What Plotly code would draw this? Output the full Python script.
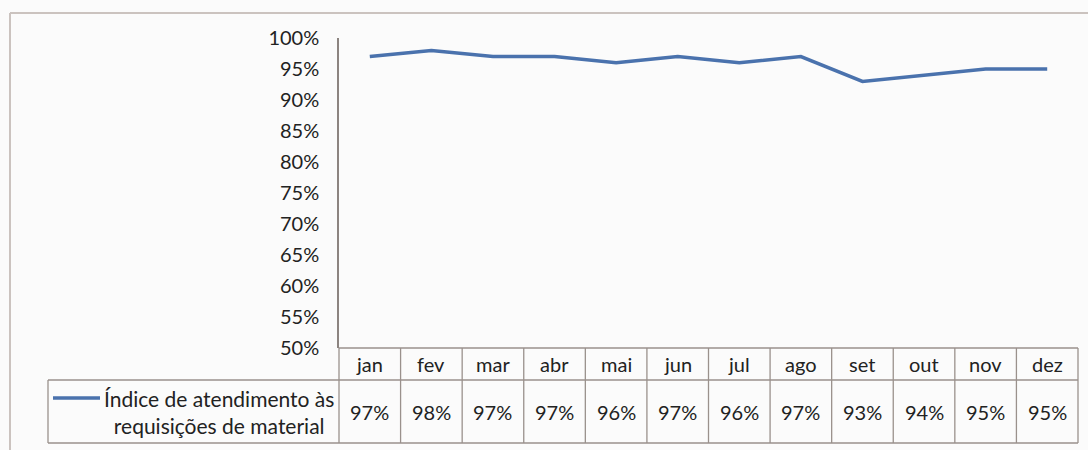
import plotly.graph_objects as go

months = ["jan", "fev", "mar", "abr", "mai", "jun", "jul", "ago", "set", "out", "nov", "dez"]
values = [97, 98, 97, 97, 96, 97, 96, 97, 93, 94, 95, 95]
series_name = "Índice de atendimento às<br>requisições de material"
y_ticks = list(range(50, 101, 5))
y_tick_labels = [f"{v}%" for v in y_ticks]

W, H = 1088, 450
L, R, T, B = 339, 10, 38, 102
pw = W - L - R
ph = H - T - B

def px_x(px):
    return (px - L) / pw

def px_y(py):
    return (H - B - py) / ph

FONT = "Lato"
TXT = "#222222"
LINE_BLUE = "#4a72ad"
GRID = "#9a918c"

fig = go.Figure()
fig.add_trace(go.Scatter(
    x=months, y=values, mode="lines",
    line=dict(color=LINE_BLUE, width=3.5, shape="linear"),
    name=series_name, showlegend=False, hoverinfo="x+y",
))

n = len(months)
shapes = []
row1_top = px_y(348)
row1_bot = px_y(380)
row2_bot = px_y(443)
legend_left = px_x(48)
for k in range(n + 1):
    shapes.append(dict(type="line", xref="paper", yref="paper",
                       x0=k / n, x1=k / n, y0=row1_top, y1=row2_bot,
                       line=dict(color=GRID, width=1.3)))
shapes.append(dict(type="line", xref="paper", yref="paper", x0=0, x1=1,
                   y0=row1_top, y1=row1_top, line=dict(color=GRID, width=1.3)))
shapes.append(dict(type="line", xref="paper", yref="paper", x0=legend_left, x1=1,
                   y0=row1_bot, y1=row1_bot, line=dict(color=GRID, width=1.3)))
shapes.append(dict(type="line", xref="paper", yref="paper", x0=legend_left, x1=1,
                   y0=row2_bot, y1=row2_bot, line=dict(color=GRID, width=1.3)))
shapes.append(dict(type="line", xref="paper", yref="paper", x0=legend_left, x1=legend_left,
                   y0=row1_bot, y1=row2_bot, line=dict(color=GRID, width=1.3)))
# legend key
shapes.append(dict(type="line", xref="paper", yref="paper", x0=px_x(53), x1=px_x(100),
                   y0=px_y(398), y1=px_y(398), line=dict(color=LINE_BLUE, width=3.5)))
# outer chart border
shapes.append(dict(type="line", xref="paper", yref="paper", x0=px_x(10), x1=px_x(1090),
                   y0=px_y(13), y1=px_y(13), line=dict(color="#cbc3bf", width=2)))
shapes.append(dict(type="line", xref="paper", yref="paper", x0=px_x(10), x1=px_x(10),
                   y0=px_y(13), y1=px_y(452), line=dict(color="#cbc3bf", width=2)))

annotations = []
for i, (m, v) in enumerate(zip(months, values)):
    annotations.append(dict(x=(i + 0.5) / n, y=(row1_top + row1_bot) / 2, xref="paper", yref="paper",
                            text=m, showarrow=False, xanchor="center", yanchor="middle",
                            font=dict(family=FONT, size=20, color=TXT)))
    annotations.append(dict(x=(i + 0.5) / n, y=(row1_bot + row2_bot) / 2, xref="paper", yref="paper",
                            text=f"{v}%", showarrow=False, xanchor="center", yanchor="middle",
                            font=dict(family=FONT, size=20, color=TXT)))
annotations.append(dict(x=px_x(219), y=(row1_bot + row2_bot) / 2, xref="paper", yref="paper",
                        text=series_name, showarrow=False, xanchor="center", yanchor="middle",
                        align="center",
                        font=dict(family=FONT, size=21, color=TXT)))

fig.update_layout(
    width=W, height=H,
    margin=dict(l=L, r=R, t=T, b=B),
    paper_bgcolor="#fbfbfb", plot_bgcolor="#fbfbfb",
    showlegend=False,
    xaxis=dict(type="category", range=[-0.5, n - 0.5], showticklabels=False,
               showgrid=False, zeroline=False, showline=False, ticks=""),
    yaxis=dict(range=[50, 100], tickvals=y_ticks, ticktext=y_tick_labels,
               showgrid=False, zeroline=False, showline=True, linecolor="#8c8480", linewidth=1.5,
               ticks="", ticklabelstandoff=14,
               tickfont=dict(family=FONT, size=20, color=TXT)),
    shapes=shapes, annotations=annotations,
)

fig.write_html("out.html", config={"displayModeBar": False},
               post_script="document.body.style.margin='0';document.body.style.background='#fbfbfb';")
